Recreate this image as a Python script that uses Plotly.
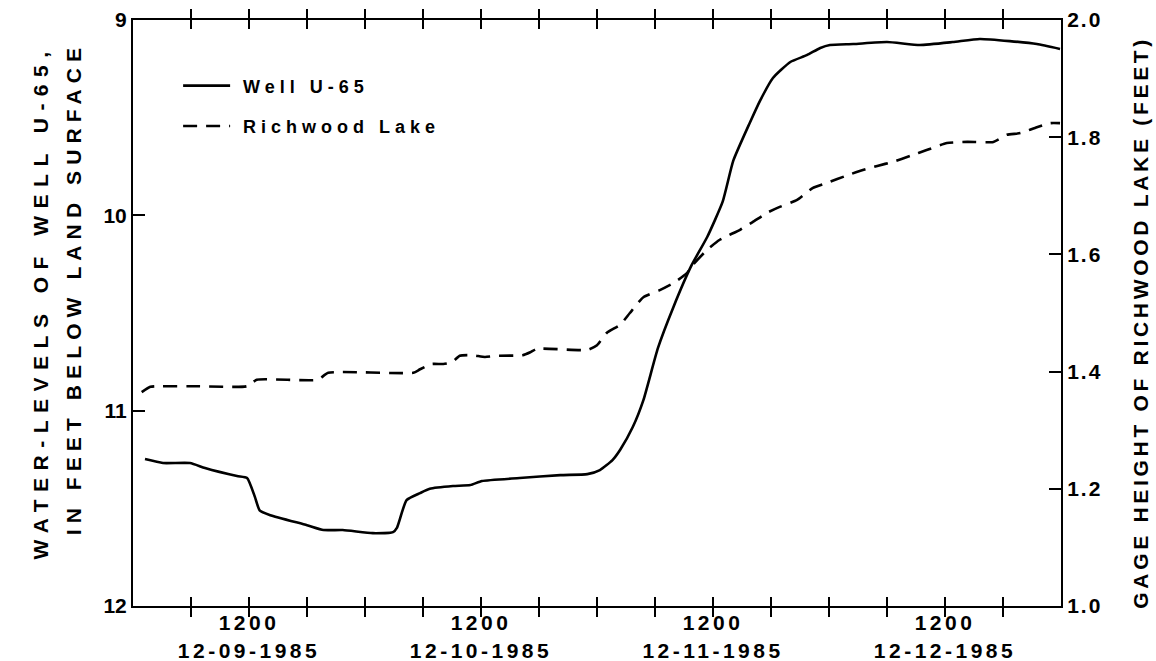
import pandas as pd
import plotly.graph_objects as go

# ---- data (hours after 1985-12-09 00:00) ----
well_hours = [1.24, 3.1, 5.9, 7.45, 10.76, 11.8, 12.6, 13.1, 14.2, 18.0, 19.7, 21.7, 24.8, 26.9,
              27.3, 28.3, 29.7, 30.7, 33.1, 34.9, 36.1, 40.0, 44.2, 47.0, 48.3, 49.6, 50.4, 51.7,
              52.8, 54.3, 55.9, 57.8, 59.4, 61.0, 62.1, 63.8, 64.9, 66.2, 68.0, 69.7, 71.1, 72.1,
              74.5, 78.0, 81.4, 84.8, 87.6, 90.7, 93.5, 95.9]
well_level = [11.248, 11.268, 11.268, 11.294, 11.335, 11.345, 11.44, 11.51, 11.535, 11.586, 11.611,
              11.611, 11.627, 11.622, 11.60, 11.458, 11.422, 11.40, 11.386, 11.381, 11.36, 11.345,
              11.33, 11.325, 11.304, 11.253, 11.20, 11.084, 10.946, 10.68, 10.47, 10.254, 10.111,
              9.93, 9.72, 9.527, 9.41, 9.297, 9.215, 9.18, 9.143, 9.128, 9.123, 9.113, 9.128,
              9.113, 9.097, 9.108, 9.123, 9.148]

lake_hours = [0.9, 1.8, 2.5, 6.9, 11.8, 12.8, 19.1, 20.2, 29.0, 29.7, 30.9, 32.1, 33.0, 33.8, 35.1,
              36.4, 37.7, 40.3, 41.1, 41.8, 47.0, 48.0, 49.0, 50.4, 51.4, 52.8, 54.5, 55.9, 57.3,
              57.9, 59.4, 60.7, 62.8, 64.1, 65.6, 66.9, 68.7, 70.3, 71.8, 73.9, 75.5, 77.0, 78.6,
              80.4, 82.1, 84.2, 86.3, 89.0, 90.4, 91.8, 93.5, 94.9, 95.9]
lake_gage = [1.365, 1.374, 1.375, 1.375, 1.375, 1.386, 1.386, 1.398, 1.398, 1.404, 1.413, 1.413,
             1.416, 1.427, 1.428, 1.425, 1.427, 1.428, 1.433, 1.439, 1.437, 1.445, 1.466, 1.480,
             1.500, 1.527, 1.539, 1.551, 1.568, 1.582, 1.608, 1.625, 1.642, 1.655, 1.671, 1.681,
             1.693, 1.713, 1.722, 1.735, 1.744, 1.751, 1.758, 1.768, 1.778, 1.790, 1.792, 1.792,
             1.804, 1.807, 1.817, 1.824, 1.824]

x_tick_hours = list(range(0, 97, 6))
x_label_hours = [12, 36, 60, 84]
x_label_text = ["1200<br>12-09-1985", "1200<br>12-10-1985", "1200<br>12-11-1985", "1200<br>12-12-1985"]
left_ticks = [9, 10, 11, 12]
right_ticks = [1.0, 1.2, 1.4, 1.6, 1.8, 2.0]

series_names = ["Well U-65", "Richwood Lake"]
left_title = ["WATER-LEVELS OF WELL U-65,", "IN FEET BELOW LAND SURFACE"]
right_title = "GAGE HEIGHT OF RICHWOOD LAKE (FEET)"

FONT = "Liberation Sans"

xt_text = [x_label_text[x_label_hours.index(h)] if h in x_label_hours else "" for h in x_tick_hours]

fig = go.Figure()
fig.add_trace(go.Scatter(x=well_hours, y=well_level, mode="lines", name=series_names[0],
                         line=dict(color="black", width=2.6, shape="spline", smoothing=0.5),
                         yaxis="y", legendgroup="a"))
fig.add_trace(go.Scatter(x=lake_hours, y=lake_gage, mode="lines", name=series_names[1],
                         line=dict(color="black", width=2.6, dash="14px,9px", shape="spline", smoothing=0.5),
                         yaxis="y2", legendgroup="b"))

tickfont = dict(family=FONT, size=21, color="black", weight="bold")

fig.update_layout(
    width=1156, height=661,
    margin=dict(l=133, r=95, t=20, b=55, autoexpand=False),
    paper_bgcolor="white", plot_bgcolor="white",
    showlegend=True,
    legend=dict(x=0.054, y=0.919, xanchor="left", yanchor="top", bgcolor="rgba(0,0,0,0)",
                font=dict(family=FONT, size=18, color="black", weight="bold"),
                tracegroupgap=14, itemwidth=50),
    xaxis=dict(range=[0, 96], tickvals=x_tick_hours, ticktext=xt_text, ticks="inside",
               ticklen=9, tickwidth=2, tickcolor="black", showline=True, linewidth=2,
               linecolor="black", mirror="allticks", showgrid=False, zeroline=False,
               tickfont=tickfont, tickangle=0, automargin=False, ticklabelstandoff=-3),
    yaxis=dict(range=[12, 9], tickvals=left_ticks, ticks="inside", ticklen=12, tickwidth=2,
               tickcolor="black", showline=True, linewidth=2, linecolor="black",
               showgrid=False, zeroline=False, tickfont=tickfont, automargin=False),
    yaxis2=dict(range=[1.0, 2.0], tickvals=right_ticks, tickformat=".1f", overlaying="y",
                side="right", ticks="inside", ticklen=12, tickwidth=2, tickcolor="black",
                showline=True, linewidth=2, linecolor="black", showgrid=False,
                zeroline=False, tickfont=tickfont, automargin=False),
)

titlefont = dict(family=FONT, size=21, color="black", weight="bold")
fig.add_annotation(text=left_title[0], xref="paper", yref="paper", x=0, y=0.5,
                   xanchor="center", yanchor="middle", xshift=-93, yshift=11,
                   textangle=-90, showarrow=False, font=titlefont)
fig.add_annotation(text=left_title[1], xref="paper", yref="paper", x=0, y=0.5,
                   xanchor="center", yanchor="middle", xshift=-60, yshift=24,
                   textangle=-90, showarrow=False, font=titlefont)
fig.add_annotation(text=right_title, xref="paper", yref="paper", x=1, y=0.5,
                   xanchor="center", yanchor="middle", xshift=79, yshift=-10,
                   textangle=-90, showarrow=False, font=titlefont)

post = """
document.body.style.margin = '0';
document.body.style.padding = '0';
var gd = document.getElementById('{plot_id}');
function track(sel, v){ gd.querySelectorAll(sel).forEach(function(t){ t.style.letterSpacing = v; }); }
track('.xtick text', '3.5px');
track('.y2tick text', '2px');
track('.legendtext', '5px');
gd.querySelectorAll('.legend .scrollbox, .legend').forEach(function(e){ e.removeAttribute('clip-path'); });
gd.querySelectorAll('.legend .legendlines path').forEach(function(p){ p.setAttribute('d', 'M0,0h47'); });
var ann = gd.querySelectorAll('.annotation-text');
var sp = ['7.5px', '6.1px', '3.7px'];
ann.forEach(function(t, i){ t.style.letterSpacing = sp[i] || '4px'; });
"""
fig.write_html("out.html", post_script=post, config={"displayModeBar": False})
